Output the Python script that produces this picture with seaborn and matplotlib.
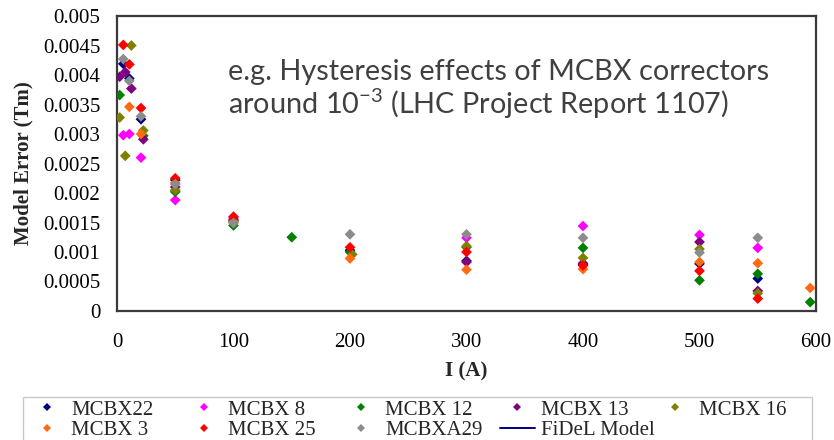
import numpy as np
import pandas as pd
import matplotlib
matplotlib.use("Agg")
import matplotlib.pyplot as plt
from matplotlib.lines import Line2D
from matplotlib.patches import Rectangle
import seaborn as sns

# Magnet series: current (A) and model error (Tm)
mcbx22_i = [5.4, 10.6, 20.6, 50, 100, 200, 300, 400, 500, 550]
mcbx22_e = [0.00419, 0.00394, 0.00325, 0.00222, 0.00153, 0.00103, 0.00085, 0.00079, 0.00080, 0.00055]

mcbx8_i = [5.4, 10.6, 20.6, 50, 100, 300, 400, 500, 550]
mcbx8_e = [0.00298, 0.00300, 0.00260, 0.00188, 0.00158, 0.00124, 0.00144, 0.00129, 0.00107]

mcbx12_i = [2.3, 22.6, 50, 100, 150, 200, 300, 400, 500, 550, 595]
mcbx12_e = [0.00366, 0.00297, 0.00202, 0.00145, 0.00125, 0.00100, 0.00108, 0.00107, 0.00052, 0.00063, 0.00015]

mcbx13_i = [2.3, 7.1, 12.3, 22.6, 50, 100, 300, 400, 500, 550]
mcbx13_e = [0.00397, 0.00405, 0.00377, 0.00291, 0.00210, 0.00155, 0.00083, 0.00081, 0.00117, 0.00034]

mcbx16_i = [2.3, 7.1, 12.3, 22.6, 50, 100, 202, 300, 400, 500, 550]
mcbx16_e = [0.00328, 0.00263, 0.00450, 0.00306, 0.00205, 0.00152, 0.00096, 0.00110, 0.00090, 0.00105, 0.00030]

mcbx3_i = [10.6, 20.6, 50, 100, 200, 300, 400, 500, 550, 595]
mcbx3_e = [0.00346, 0.00300, 0.00217, 0.00150, 0.00089, 0.00070, 0.00071, 0.00083, 0.00081, 0.00039]

mcbx25_i = [5.4, 10.6, 20.6, 50, 100, 200, 300, 400, 500, 550]
mcbx25_e = [0.00451, 0.00418, 0.00344, 0.00225, 0.00160, 0.00108, 0.00100, 0.00077, 0.00068, 0.00021]

mcbxa29_i = [5.4, 10.6, 20.6, 50, 100, 200, 300, 400, 500, 550]
mcbxa29_e = [0.00427, 0.00390, 0.00330, 0.00215, 0.00149, 0.00130, 0.00130, 0.00124, 0.00099, 0.00124]

series_names = ["MCBX22", "MCBX 8", "MCBX 12", "MCBX 13", "MCBX 16",
                "MCBX 3", "MCBX 25", "MCBXA29"]
series_colors = ["#000080", "#ff00ff", "#008000", "#800080", "#808000",
                 "#ff6a13", "#ff0000", "#8c8c8c"]
model_name = "FiDeL Model"
model_color = "#000080"

x_ticks = [0, 100, 200, 300, 400, 500, 600]
y_ticks = [0, 0.0005, 0.001, 0.0015, 0.002, 0.0025, 0.003, 0.0035, 0.004, 0.0045, 0.005]
y_tick_labels = ["0", "0.0005", "0.001", "0.0015", "0.002", "0.0025",
                 "0.003", "0.0035", "0.004", "0.0045", "0.005"]

currents = [mcbx22_i, mcbx8_i, mcbx12_i, mcbx13_i, mcbx16_i, mcbx3_i, mcbx25_i, mcbxa29_i]
errors = [mcbx22_e, mcbx8_e, mcbx12_e, mcbx13_e, mcbx16_e, mcbx3_e, mcbx25_e, mcbxa29_e]

frames = []
for name, i_vals, e_vals in zip(series_names, currents, errors):
    frames.append(pd.DataFrame({"I": i_vals, "err": e_vals, "magnet": name}))
df = pd.concat(frames, ignore_index=True)

sns.set_style("white")
plt.rcParams["font.family"] = ["Liberation Serif", "DejaVu Serif"]
plt.rcParams["mathtext.default"] = "regular"

W, H = 834, 440
fig = plt.figure(figsize=(W / 100, H / 100), dpi=100)
ax = fig.add_axes([117 / W, 1 - 311 / H, (816 - 117) / W, (311 - 16) / H])

sns.scatterplot(data=df, x="I", y="err", hue="magnet", hue_order=series_names,
                palette=dict(zip(series_names, series_colors)), marker="D",
                s=30, linewidth=0, legend=False, ax=ax, zorder=3)

ax.set_xlim(0, 600)
ax.set_ylim(0, 0.005)
ax.set_xticks(x_ticks)
ax.set_xticklabels([str(v) for v in x_ticks])
ax.set_yticks(y_ticks)
ax.set_yticklabels(y_tick_labels)
ax.tick_params(axis="both", direction="in", length=5, width=1, color="#c0c0c0",
               labelsize=15, labelcolor="black")
ax.tick_params(axis="x", pad=16)
ax.tick_params(axis="y", pad=12)
for side in ["left", "bottom", "right", "top"]:
    ax.spines[side].set_visible(True)
    ax.spines[side].set_color("#3a3a3a")
    ax.spines[side].set_linewidth(1.6)

ax.set_xlabel("I (A)", fontsize=15, fontweight="bold", labelpad=7)
ax.set_ylabel("Model Error (Tm)", fontsize=15, fontweight="bold", labelpad=7)

# Note placed in the upper-right empty area of the plot
fig.text(228 / W, 1 - 90 / H, "e.g. Hysteresis effects of MCBX correctors\n"
         "around 10$^{\\mathregular{-3}}$ (LHC Project Report 1107)",
         fontsize=20.8, family=["Lato", "DejaVu Sans"], color="#404040",
         ha="left", va="center", linespacing=1.06, zorder=4)

# Legend: 5 columns x 2 rows, entries placed on a fixed grid
handles = {}
for name, col in zip(series_names, series_colors):
    handles[name] = Line2D([], [], linestyle="none", marker="D", markersize=4.2,
                           markerfacecolor=col, markeredgewidth=0)
handles[model_name] = Line2D([], [], color=model_color, linewidth=1.4)
grid = [["MCBX22", "MCBX 8", "MCBX 12", "MCBX 13", "MCBX 16"],
        ["MCBX 3", "MCBX 25", "MCBXA29", model_name]]
col_x = [30, 187, 344, 500, 658]
row_y = [410, 430]
for r, row in enumerate(grid):
    for c, label in enumerate(row):
        fig.legend([handles[label]], [label], loc="center left",
                   bbox_to_anchor=(col_x[c] / W, 1 - row_y[r] / H),
                   frameon=False, fontsize=15, handlelength=1.67,
                   handletextpad=0.3, borderpad=0, borderaxespad=0)
fig.patches.append(Rectangle((23 / W, -0.02), (812 - 23) / W, 1 - 397 / H + 0.02,
                             transform=fig.transFigure, fill=False,
                             edgecolor="#c8c8c8", linewidth=1.0))

fig.savefig("out.png", dpi=100)
